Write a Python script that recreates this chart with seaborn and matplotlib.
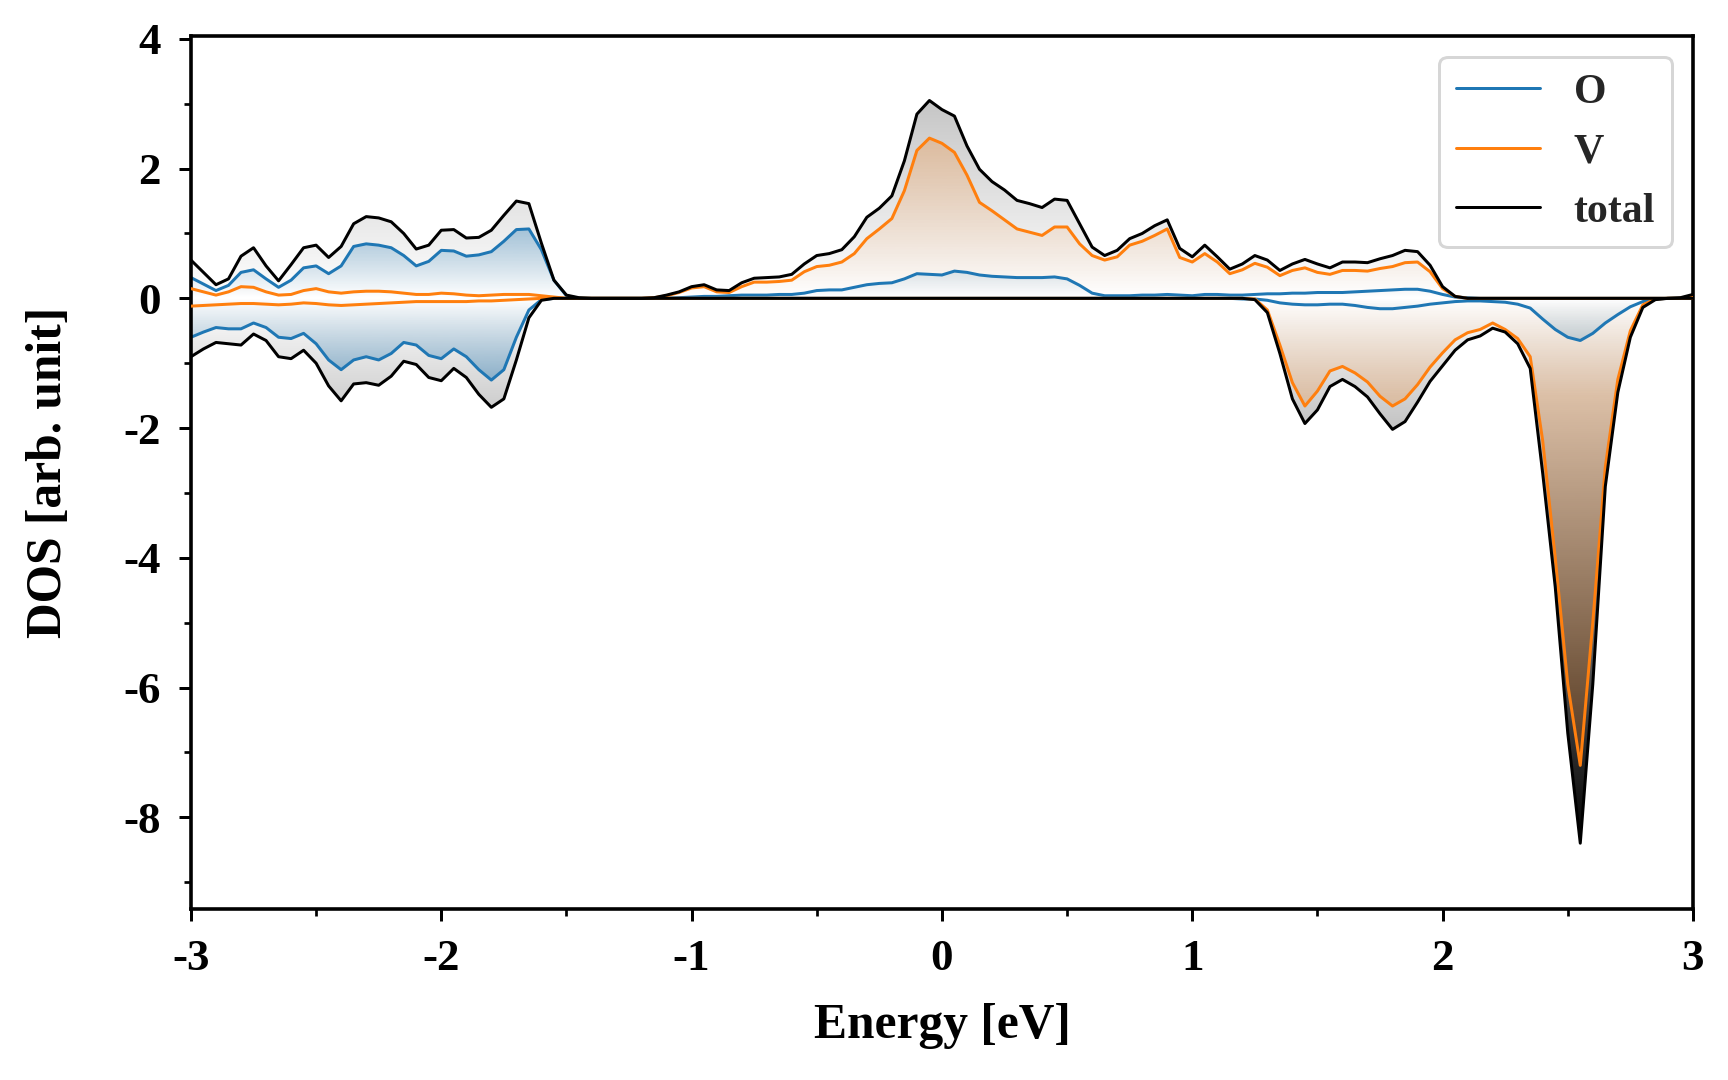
import numpy as np
import seaborn as sns
import matplotlib.pyplot as plt
from matplotlib.ticker import MultipleLocator
from matplotlib.colors import to_rgb

# energy grid [eV], step 0.05 from -3 to 3
energy = np.round(np.linspace(-3.0, 3.0, 121), 2)

# spin up (positive) and spin down (negative) DOS
total_up = [
    0.59, 0.40, 0.21, 0.30, 0.65, 0.78, 0.50, 0.27, 0.52, 0.78,
    0.82, 0.63, 0.80, 1.15, 1.26, 1.24, 1.18, 1.00, 0.76, 0.82,
    1.05, 1.06, 0.93, 0.94, 1.05, 1.28, 1.50, 1.46, 0.85, 0.28,
    0.05, 0.01, 0.00, 0.00, 0.00, 0.00, 0.00, 0.01, 0.05, 0.10,
    0.18, 0.21, 0.13, 0.12, 0.24, 0.31, 0.32, 0.33, 0.37, 0.53,
    0.66, 0.69, 0.75, 0.95, 1.25, 1.39, 1.58, 2.12, 2.84, 3.05,
    2.91, 2.81, 2.35, 1.99, 1.80, 1.67, 1.51, 1.46, 1.40, 1.53,
    1.51, 1.15, 0.79, 0.66, 0.74, 0.92, 1.00, 1.12, 1.21, 0.77,
    0.64, 0.82, 0.64, 0.45, 0.53, 0.66, 0.59, 0.43, 0.53, 0.60,
    0.53, 0.47, 0.56, 0.56, 0.55, 0.61, 0.66, 0.74, 0.72, 0.51,
    0.18, 0.03, 0.00, 0.00, 0.00, 0.00, 0.00, 0.00, 0.00, 0.00,
    0.00, 0.00, 0.00, 0.00, 0.00, 0.00, 0.00, 0.00, 0.00, 0.01,
    0.06,
]
v_up = [
    0.15, 0.10, 0.05, 0.10, 0.18, 0.17, 0.10, 0.05, 0.06, 0.12,
    0.15, 0.10, 0.08, 0.10, 0.11, 0.11, 0.10, 0.08, 0.06, 0.06,
    0.08, 0.07, 0.05, 0.04, 0.05, 0.06, 0.06, 0.06, 0.04, 0.02,
    0.00, 0.00, 0.00, 0.00, 0.00, 0.00, 0.00, 0.01, 0.04, 0.09,
    0.16, 0.18, 0.10, 0.09, 0.18, 0.25, 0.25, 0.26, 0.28, 0.41,
    0.49, 0.51, 0.56, 0.69, 0.92, 1.07, 1.23, 1.66, 2.28, 2.47,
    2.39, 2.25, 1.90, 1.48, 1.35, 1.21, 1.07, 1.02, 0.97, 1.10,
    1.10, 0.84, 0.66, 0.59, 0.64, 0.82, 0.88, 0.97, 1.07, 0.63,
    0.56, 0.69, 0.56, 0.38, 0.44, 0.54, 0.48, 0.35, 0.43, 0.47,
    0.40, 0.37, 0.43, 0.43, 0.42, 0.46, 0.49, 0.55, 0.56, 0.41,
    0.15, 0.03, 0.00, 0.00, 0.00, 0.00, 0.00, 0.00, 0.00, 0.00,
    0.00, 0.00, 0.00, 0.00, 0.00, 0.00, 0.00, 0.00, 0.00, 0.00,
    0.03,
]
o_up = [
    0.32, 0.22, 0.12, 0.20, 0.40, 0.44, 0.30, 0.17, 0.28, 0.47,
    0.50, 0.38, 0.50, 0.80, 0.84, 0.82, 0.78, 0.66, 0.50, 0.57,
    0.74, 0.73, 0.65, 0.67, 0.72, 0.88, 1.06, 1.07, 0.75, 0.28,
    0.04, 0.00, 0.00, 0.00, 0.00, 0.00, 0.00, 0.00, 0.00, 0.01,
    0.02, 0.03, 0.03, 0.04, 0.05, 0.05, 0.05, 0.06, 0.06, 0.08,
    0.12, 0.13, 0.13, 0.17, 0.21, 0.23, 0.24, 0.30, 0.38, 0.37,
    0.36, 0.42, 0.40, 0.36, 0.34, 0.33, 0.32, 0.32, 0.32, 0.33,
    0.30, 0.20, 0.08, 0.04, 0.04, 0.04, 0.05, 0.05, 0.06, 0.05,
    0.04, 0.06, 0.06, 0.05, 0.05, 0.06, 0.07, 0.07, 0.08, 0.08,
    0.09, 0.09, 0.09, 0.10, 0.11, 0.12, 0.13, 0.14, 0.14, 0.11,
    0.06, 0.02, 0.01, 0.00, 0.00, 0.00, 0.00, 0.00, 0.00, 0.00,
    0.00, 0.00, 0.00, 0.00, 0.00, 0.00, 0.00, 0.00, 0.00, 0.00,
    0.00,
]
total_down = [
    -0.90, -0.78, -0.68, -0.70, -0.72, -0.55, -0.65, -0.90, -0.93, -0.80,
    -1.00, -1.35, -1.58, -1.32, -1.30, -1.34, -1.20, -0.97, -1.02, -1.22,
    -1.27, -1.08, -1.22, -1.48, -1.68, -1.55, -0.95, -0.30, -0.03, 0.00,
    0.00, 0.00, 0.00, 0.00, 0.00, 0.00, 0.00, 0.00, 0.00, 0.00,
    0.00, 0.00, 0.00, 0.00, 0.00, 0.00, 0.00, 0.00, 0.00, 0.00,
    0.00, 0.00, 0.00, 0.00, 0.00, 0.00, 0.00, 0.00, 0.00, 0.00,
    0.00, 0.00, 0.00, 0.00, 0.00, 0.00, 0.00, 0.00, 0.00, 0.00,
    0.00, 0.00, 0.00, 0.00, 0.00, 0.00, 0.00, 0.00, 0.00, 0.00,
    0.00, 0.00, 0.00, 0.00, 0.00, -0.02, -0.22, -0.85, -1.55, -1.93,
    -1.72, -1.36, -1.25, -1.36, -1.52, -1.78, -2.02, -1.90, -1.60, -1.28,
    -1.04, -0.80, -0.64, -0.58, -0.46, -0.52, -0.70, -1.08, -2.70, -4.45,
    -6.70, -8.40, -5.95, -2.90, -1.45, -0.60, -0.14, -0.02, 0.00, 0.00,
    0.00,
]
v_down = [
    -0.12, -0.11, -0.10, -0.09, -0.08, -0.08, -0.09, -0.10, -0.09, -0.07,
    -0.08, -0.10, -0.11, -0.10, -0.09, -0.08, -0.07, -0.06, -0.05, -0.05,
    -0.05, -0.05, -0.05, -0.04, -0.04, -0.03, -0.02, -0.01, 0.00, 0.00,
    0.00, 0.00, 0.00, 0.00, 0.00, 0.00, 0.00, 0.00, 0.00, 0.00,
    0.00, 0.00, 0.00, 0.00, 0.00, 0.00, 0.00, 0.00, 0.00, 0.00,
    0.00, 0.00, 0.00, 0.00, 0.00, 0.00, 0.00, 0.00, 0.00, 0.00,
    0.00, 0.00, 0.00, 0.00, 0.00, 0.00, 0.00, 0.00, 0.00, 0.00,
    0.00, 0.00, 0.00, 0.00, 0.00, 0.00, 0.00, 0.00, 0.00, 0.00,
    0.00, 0.00, 0.00, 0.00, 0.00, -0.01, -0.18, -0.72, -1.30, -1.66,
    -1.43, -1.12, -1.05, -1.15, -1.29, -1.51, -1.66, -1.55, -1.33, -1.06,
    -0.84, -0.64, -0.53, -0.48, -0.38, -0.48, -0.62, -0.90, -2.20, -4.00,
    -5.95, -7.20, -5.00, -2.60, -1.25, -0.50, -0.10, -0.01, 0.00, 0.00,
    0.00,
]
o_down = [
    -0.60, -0.52, -0.45, -0.47, -0.47, -0.38, -0.45, -0.60, -0.62, -0.54,
    -0.70, -0.95, -1.10, -0.95, -0.90, -0.95, -0.85, -0.68, -0.72, -0.88,
    -0.93, -0.78, -0.90, -1.10, -1.26, -1.10, -0.60, -0.18, -0.02, 0.00,
    0.00, 0.00, 0.00, 0.00, 0.00, 0.00, 0.00, 0.00, 0.00, 0.00,
    0.00, 0.00, 0.00, 0.00, 0.00, 0.00, 0.00, 0.00, 0.00, 0.00,
    0.00, 0.00, 0.00, 0.00, 0.00, 0.00, 0.00, 0.00, 0.00, 0.00,
    0.00, 0.00, 0.00, 0.00, 0.00, 0.00, 0.00, 0.00, 0.00, 0.00,
    0.00, 0.00, 0.00, 0.00, 0.00, 0.00, 0.00, 0.00, 0.00, 0.00,
    0.00, 0.00, 0.00, 0.00, -0.01, -0.01, -0.03, -0.07, -0.09, -0.10,
    -0.10, -0.09, -0.09, -0.11, -0.14, -0.16, -0.16, -0.14, -0.12, -0.09,
    -0.07, -0.05, -0.04, -0.04, -0.05, -0.06, -0.09, -0.15, -0.32, -0.48,
    -0.60, -0.65, -0.54, -0.38, -0.25, -0.13, -0.05, -0.01, 0.00, 0.00,
    0.00,
]

species = ["O", "V", "total"]
colors = {"O": "#1f77b4", "V": "#ff7f0e", "total": "black"}


def gradient_fill(ax, x, y, color, slope, cap, zorder):
    # colour fades from the zero line outwards, clipped to the area under the curve
    y = np.asarray(y, dtype=float)
    edge = np.abs(y).max()
    poly = ax.fill_between(x, 0, y, facecolor="none", edgecolor="none", lw=0)
    depth = np.linspace(0, edge, 400)
    rgba = np.zeros((400, 1, 4))
    rgba[:, 0, :3] = to_rgb(color)
    rgba[:, 0, 3] = np.clip(slope * depth, 0, cap)
    if y.sum() > 0:
        extent, origin = [x[0], x[-1], 0, edge], "lower"
    else:
        extent, origin = [x[0], x[-1], -edge, 0], "upper"
    im = ax.imshow(rgba, aspect="auto", extent=extent, origin=origin,
                   interpolation="bilinear", zorder=zorder)
    im.set_clip_path(poly.get_paths()[0], transform=ax.transData)


sns.set_theme(style="ticks")
plt.rcParams["font.family"] = ["Liberation Serif", "DejaVu Serif"]
plt.rcParams["font.weight"] = "bold"
plt.rcParams["axes.unicode_minus"] = False

fig = plt.figure(figsize=(8, 5), dpi=216)
ax = fig.add_axes([0.1105, 0.158, 0.8692, 0.809])

# gradients: total (grey) first, then V and O tinted on top
gradient_fill(ax, energy, total_up, "black", 0.075, 1.0, 1.0)
gradient_fill(ax, energy, total_down, "black", 0.119, 1.0, 1.0)
gradient_fill(ax, energy, v_up, colors["V"], 0.105, 1.0, 1.1)
gradient_fill(ax, energy, v_down, colors["V"], 0.147, 0.22, 1.1)
gradient_fill(ax, energy, o_up, colors["O"], 0.33, 0.45, 1.2)
gradient_fill(ax, energy, o_down, colors["O"], 0.33, 0.45, 1.2)

curves = {"O": (o_up, o_down), "V": (v_up, v_down), "total": (total_up, total_down)}
handles = []
for i, name in enumerate(species):
    up, down = curves[name]
    for vals in (up, down):
        sns.lineplot(x=energy, y=vals, color=colors[name], lw=1.0, ax=ax,
                     zorder=2 + i, solid_joinstyle="round")
    handles.append(ax.lines[-1])

ax.legend(handles, species, loc="upper right", labelspacing=0.5,
          prop={"weight": "bold", "size": 14}, fancybox=True, framealpha=0.8)

ax.set_xlim(-3, 3)
ax.set_ylim(-9.42, 4.05)
ax.xaxis.set_major_locator(MultipleLocator(1))
ax.xaxis.set_minor_locator(MultipleLocator(0.5))
ax.yaxis.set_major_locator(MultipleLocator(2))
ax.yaxis.set_minor_locator(MultipleLocator(1))
ax.tick_params(which="major", direction="out", length=4, width=1.0,
               labelsize=15, pad=6, color="black", labelcolor="black")
ax.tick_params(which="minor", direction="out", length=2.2, width=0.9, color="black")
for lab in ax.get_xticklabels() + ax.get_yticklabels():
    lab.set_fontweight("bold")
for sp in ax.spines.values():
    sp.set_linewidth(1.2)
    sp.set_color("black")

ax.set_xlabel("Energy [eV]", fontsize=16.5, fontweight="bold", labelpad=8, color="black")
ax.set_ylabel("DOS [arb. unit]", fontsize=16.5, fontweight="bold", labelpad=17, color="black")

fig.savefig("out.png", dpi=216)
